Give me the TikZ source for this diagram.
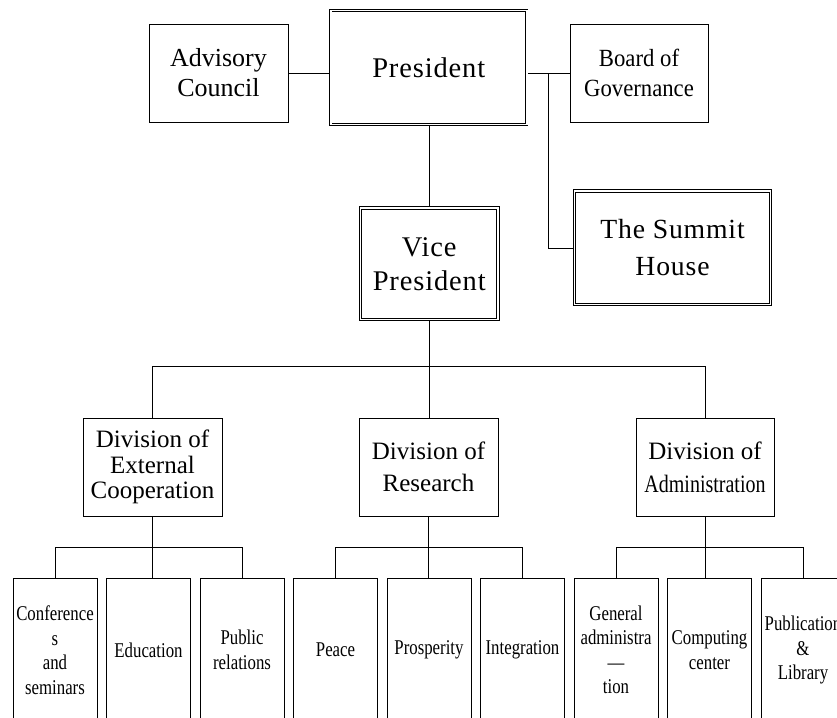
\documentclass[tikz,border=0pt]{standalone}
\usepackage{fontspec}
\setmainfont{Liberation Serif}
\newfontfamily\spacedfont[LetterSpace=3]{Liberation Serif}
\newfontfamily\narrowfont[FakeStretch=0.8]{Liberation Serif}
\newfontfamily\slimfont[FakeStretch=0.92]{Liberation Serif}
\usetikzlibrary{positioning}
\usetikzlibrary{backgrounds,calc}
\tikzset{link/.style = {line width=0.9pt, black!75}}

\begin{document}
\begin{tikzpicture}[x=1pt,y=-1pt,node distance=8.6pt,
  box/.style={draw,rectangle,inner sep=0pt,align=center,line width=0.9pt},
  dbox/.style={box,double,double distance=1.8pt,line width=0.7pt},
  unit/.style={box,minimum width=139pt,minimum height=98pt},
  leaf/.style={box,minimum width=84pt,minimum height=144pt,font=\narrowfont\fontsize{21}{24.5}\selectfont}]
  \useasboundingbox (0,0) rectangle (837,717);

  % top level
  \node[unit, font=\fontsize{26}{30}\selectfont] (adv) at (218.5,73) {Advisory\\Council};
  \node[dbox, minimum width=196pt, minimum height=114pt, font=\spacedfont\fontsize{28.5}{34}\selectfont] (pres) at (428.75,67.5) {President};
  \node[unit, minimum width=138pt, font=\slimfont\fontsize{24.7}{30}\selectfont] (board) at (639,73) {Board of\\Governance};
  \node[dbox, minimum width=196pt, minimum height=113.5pt, font=\spacedfont\fontsize{27.7}{37}\selectfont] (summit) at (672.5,247.75) {The Summit\\House};
  \node[dbox, minimum width=137.5pt, minimum height=111.5pt, font=\spacedfont\fontsize{28.5}{34}\selectfont] (vp) at (429.25,263.75) {Vice\\President};

  % divisions
  \node[unit, font=\fontsize{25}{25.5}\selectfont] (ext) at (152.5,467) {Division of\\External\\Cooperation};
  \node[unit, font=\fontsize{25}{32}\selectfont] (res) at (428.5,467) {Division of\\Research};
  \node[unit, minimum width=138pt, font=\fontsize{25}{33}\selectfont] (adm) at (705,467) {Division of\\{\narrowfont Administration}};

  % units
  \node[leaf] (conf) at (55,650) {Conference\\s\\and\\seminars};
  \node[leaf, right=of conf] (edu) {Education};
  \node[leaf, right=of edu] (pubrel) {Public\\relations};
  \node[leaf, right=of pubrel] (peace) {Peace};
  \node[leaf, right=of peace] (prosp) {Prosperity};
  \node[leaf, right=of prosp] (integ) {Integration};
  \node[leaf, right=of integ] (genadm) {General\\administra\\—\\tion};
  \node[leaf, right=of genadm] (comp) {Computing\\center};
  \node[leaf, right=of comp] (publib) {Publication\\\&\\Library};

  \begin{scope}[on background layer, link]
    \draw (adv.east) -- (adv.east -| pres.west);
    \draw (board.west) -- (board.west -| pres.east);
    \coordinate (tap) at ($(board.west)+(-21,0)$);
    \draw (summit.west) -| (tap);
    \draw (pres.south) -- (pres.south |- vp.north);
    \draw (vp.south) -- (vp.south |- res.north);
    \draw (ext.north) -- ++(0,-51) -| (adm.north);
    %\draw (vp.south) |- (ext.north);
    \draw (ext.south) -- (ext.south |- edu.north);
    \draw (conf.north) -- ++(0,-30.5) -| (pubrel.north);
    \draw (res.south) -- (res.south |- prosp.north);
    \draw (peace.north) -- ++(0,-30.5) -| (integ.north);
    \draw (adm.south) -- (adm.south |- comp.north);
    \draw (genadm.north) -- ++(0,-30.5) -| (publib.north);
  \end{scope}
\end{tikzpicture}
\end{document}
